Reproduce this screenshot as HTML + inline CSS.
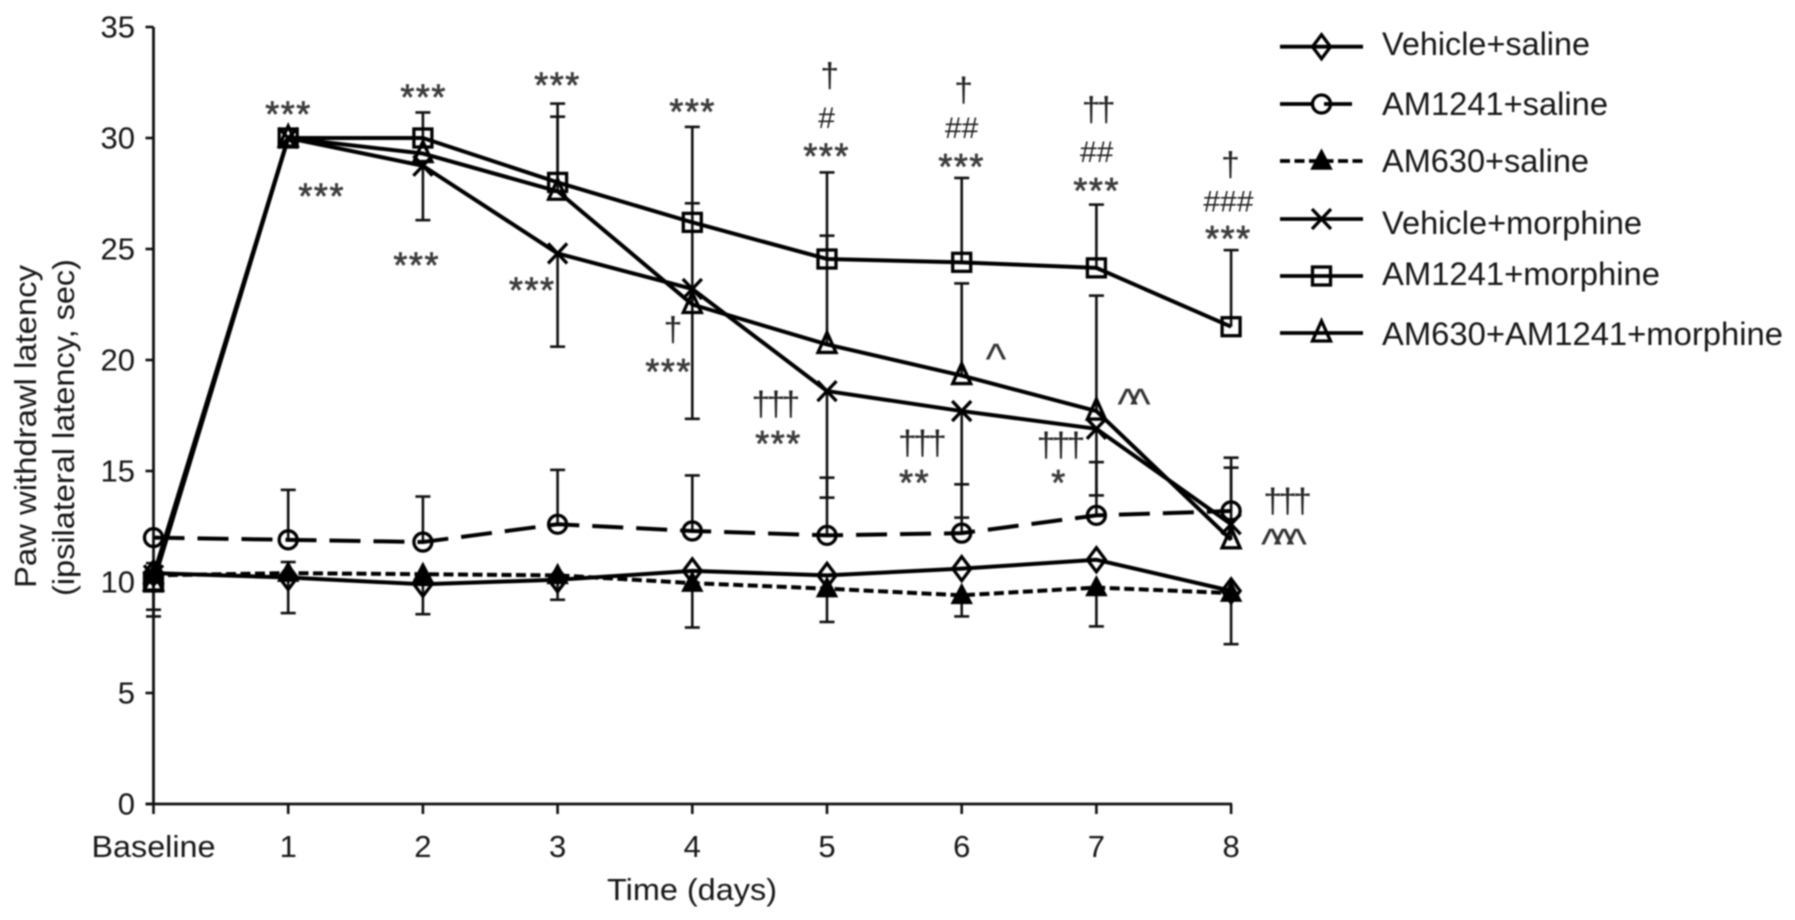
<!DOCTYPE html>
<html>
<head>
<meta charset="utf-8">
<title>Paw withdrawal latency chart</title>
<style>
html,body{margin:0;padding:0;background:#fff;width:1795px;height:920px;overflow:hidden}
svg{display:block;filter:blur(0.8px)}
text{font-family:"Liberation Sans",sans-serif;fill:#171717}
.lbl{font-size:31px}
.leg{font-size:32px}
.star{font-size:36px;fill:#3c3c3c;stroke:#3c3c3c;stroke-width:.7px;text-anchor:middle;letter-spacing:1.5px}
.dag{font-size:34px;fill:#222;text-anchor:middle;letter-spacing:-4px}
.hash{font-size:30px;fill:#222;text-anchor:middle}
.car{font-size:44px;fill:#333;text-anchor:middle;letter-spacing:-8px}
</style>
</head>
<body>
<svg id="chart" xmlns="http://www.w3.org/2000/svg" width="1795" height="920" viewBox="0 0 1795 920">
  <rect x="0" y="0" width="1795" height="920" fill="#fff"/>
  <g id="axes"></g>
  <g id="errors"></g>
  <g id="series"></g>
  <g id="legend"></g>

  <text class="lbl" x="607" y="900" textLength="170" lengthAdjust="spacingAndGlyphs">Time (days)</text>
  <text class="lbl" transform="translate(36,588) rotate(-90)" textLength="323" lengthAdjust="spacingAndGlyphs">Paw withdrawl latency</text>
  <text class="lbl" transform="translate(74,596) rotate(-90)" textLength="337" lengthAdjust="spacingAndGlyphs">(ipsilateral latency, sec)</text>

  <g transform="translate(0,-3.5)">
    <text class="star" x="288.5" y="130">***</text>
    <text class="star" x="321.7" y="212">***</text>
    <text class="star" x="423.6" y="113">***</text>
    <text class="star" x="416.7" y="281">***</text>
    <text class="star" x="557.5" y="101">***</text>
    <text class="star" x="532.3" y="306">***</text>
    <text class="star" x="692.6" y="127.6">***</text>
    <text class="star" x="668.6" y="387.5">***</text>
    <text class="star" x="826.6" y="172">***</text>
    <text class="star" x="778.5" y="459.6">***</text>
    <text class="star" x="961.6" y="182.6">***</text>
    <text class="star" x="914.7" y="498.5">**</text>
    <text class="star" x="1096.7" y="206.6">***</text>
    <text class="star" x="1059" y="498.5">*</text>
    <text class="star" x="1228.4" y="254.7">***</text>
  </g>
  <g transform="translate(0,2)">
    <text class="dag" x="670.9" y="339">†</text>
    <text class="dag" x="827.7" y="85">†</text>
    <text class="dag" x="961.6" y="99.7">†</text>
    <text class="dag" x="1096.7" y="119.2">††</text>
    <text class="dag" x="1228.4" y="174">†</text>
    <text class="dag" x="773.9" y="413.4">†††</text>
    <text class="dag" x="920.4" y="452.3">†††</text>
    <text class="dag" x="1059" y="454.6">†††</text>
    <text class="dag" x="1285.6" y="510.7">†††</text>
  </g>
  <g>
    <text class="hash" x="826.6" y="128">#</text>
    <text class="hash" x="961.6" y="138">##</text>
    <text class="hash" x="1096.7" y="162">##</text>
    <text class="hash" x="1228.4" y="211.5">###</text>
  </g>
  <g>
    <text class="car" x="992" y="374">^</text>
    <text class="car" x="1130" y="419">^^</text>
    <text class="car" x="1280" y="559">^^^</text>
  </g>
</svg>
<script>
const categories = ['Baseline', '1', '2', '3', '4', '5', '6', '7', '8'];
const yTicks = [0, 5, 10, 15, 20, 25, 30, 35];

const vehicleSaline = [10.4, 10.2, 9.9, 10.1, 10.5, 10.3, 10.6, 11.0, 9.6];
const am1241Saline = [12.0, 11.9, 11.8, 12.6, 12.3, 12.1, 12.2, 13.0, 13.2];
const am630Saline = [10.3, 10.4, 10.35, 10.3, 9.95, 9.7, 9.4, 9.75, 9.5];
const vehicleMorphine = [10.3, 30, 28.75, 24.8, 23.2, 18.6, 17.7, 16.9, 12.6];
const am1241Morphine = [10.0, 30, 30, 28, 26.2, 24.55, 24.4, 24.15, 21.5];
const am630Am1241Morphine = [10.0, 30, 29.3, 27.6, 22.5, 20.7, 19.3, 17.7, 11.9];

const vehicleSalineLow = [8.45, null, null, null, null, null, null, null, null];
const am1241SalineHigh = [null, 14.15, 13.85, 15.05, 14.8, 14.7, 14.4, 15.4, 15.6];
const am630SalineHigh = [null, 10.9, null, null, null, null, null, null, null];
const am630SalineLow = [8.75, 8.6, 8.55, 9.2, 7.95, 8.2, 8.45, 8.0, 7.2];
const vehicleMorphineLow = [null, null, 26.3, 20.6, 17.35, 13.8, 12.9, 13.9, null];
const am1241MorphineHigh = [null, null, 31.15, 31.55, 30.5, 28.45, 28.2, 27.0, 24.95];
const triangleHigh = [10.85, null, null, 30.96, 27.06, 25.6, 23.45, 22.9, 15.15];

const NS = 'http://www.w3.org/2000/svg';
const X0 = 153.5, XSTEP = 134.7, Y0 = 804, YUNIT = 22.2;
function xScale(i) { return X0 + i * XSTEP; }
function yScale(v) { return Y0 - v * YUNIT; }

function make(tag, attrs, parent) {
  const el = document.createElementNS(NS, tag);
  for (const k in attrs) el.setAttribute(k, attrs[k]);
  parent.appendChild(el);
  return el;
}

const axes = document.getElementById('axes');
const errorsG = document.getElementById('errors');
const seriesG = document.getElementById('series');
const legendG = document.getElementById('legend');
const INK = '#111';

/* axes */
const yAxisLine = make('line', {x1: X0, x2: X0, y1: yScale(35), y2: yScale(0), stroke: INK, 'stroke-width': 2.8}, axes);


const xAxisLine = make('line', {x1: X0 - 8, x2: xScale(8) + 1, y1: Y0, y2: Y0, stroke: INK, 'stroke-width': 2.8}, axes);



yTicks.forEach(function (t) {
  const tick = make('line', {x1: X0 - 8, x2: X0, y1: yScale(t), y2: yScale(t), stroke: INK, 'stroke-width': 2.6}, axes);
  
  
  const label = make('text', {x: 135, y: yScale(t) + 10.5, 'text-anchor': 'end', class: 'lbl'}, axes);
  label.textContent = String(t);
  
  
});

categories.forEach(function (c, i) {
  const tick = make('line', {x1: xScale(i), x2: xScale(i), y1: Y0, y2: Y0 + 10, stroke: INK, 'stroke-width': 2.6}, axes);
  
  
  const attrs = {x: xScale(i), y: 857, 'text-anchor': 'middle', class: 'lbl'};
  if (i === 0) { attrs.textLength = 124; attrs.lengthAdjust = 'spacingAndGlyphs'; }
  const label = make('text', attrs, axes);
  label.textContent = c;
  
  
});

/* error bars */
function drawErrors(name, values, ends) {
  ends.forEach(function (end, i) {
    if (end === null) return;
    const x = xScale(i);
    const stem = make('line', {x1: x, x2: x, y1: yScale(values[i]), y2: yScale(end), stroke: INK, 'stroke-width': 2.6}, errorsG);
    
    
    const cap = make('line', {x1: x - 7.5, x2: x + 7.5, y1: yScale(end), y2: yScale(end), stroke: INK, 'stroke-width': 2.6}, errorsG);
    
    
  });
}
drawErrors('vehicle-saline', vehicleSaline, vehicleSalineLow);
drawErrors('am1241-saline', am1241Saline, am1241SalineHigh);
drawErrors('am630-saline', am630Saline, am630SalineHigh);
drawErrors('am630-saline', am630Saline, am630SalineLow);
drawErrors('vehicle-morphine', vehicleMorphine, vehicleMorphineLow);
drawErrors('am1241-morphine', am1241Morphine, am1241MorphineHigh);
drawErrors('am630-am1241-morphine', am630Am1241Morphine, triangleHigh);

/* markers */
function drawMarker(kind, x, y, parent) {
  const common = {fill: 'none', stroke: '#000', 'stroke-width': 3.3};
  if (kind === 'diamond') {
    return make('polygon', Object.assign({points: [x, y - 12, x + 9, y, x, y + 12, x - 9, y].join(' ')}, common), parent);
  }
  if (kind === 'circle') {
    return make('circle', Object.assign({cx: x, cy: y, r: 9}, common), parent);
  }
  if (kind === 'filled') {
    return make('polygon', {points: [x, y - 11, x + 10, y + 8, x - 10, y + 8].join(' '), fill: '#000', stroke: '#000', 'stroke-width': 1.5}, parent);
  }
  if (kind === 'cross') {
    return make('path', Object.assign({d: 'M' + (x - 9.5) + ' ' + (y - 10) + 'L' + (x + 9.5) + ' ' + (y + 10) + 'M' + (x + 9.5) + ' ' + (y - 10) + 'L' + (x - 9.5) + ' ' + (y + 10)}, common), parent);
  }
  if (kind === 'square') {
    return make('rect', Object.assign({x: x - 9, y: y - 9, width: 18, height: 18}, common), parent);
  }
  return make('polygon', Object.assign({points: [x, y - 12, x + 9, y + 8, x - 9, y + 8].join(' ')}, common), parent);
}

/* series */
function drawSeries(name, values, kind, dash) {
  const pts = values.map(function (v, i) { return xScale(i) + ',' + yScale(v); }).join(' ');
  const attrs = {points: pts, fill: 'none', stroke: '#000', 'stroke-width': 4, 'stroke-linejoin': 'round'};
  if (dash) attrs['stroke-dasharray'] = dash;
  const line = make('polyline', attrs, seriesG);
  
  
  values.forEach(function (v, i) {
    const m = drawMarker(kind, xScale(i), yScale(v), seriesG);
    
    
  });
}
drawSeries('vehicle-saline', vehicleSaline, 'diamond', null);
drawSeries('am1241-saline', am1241Saline, 'circle', '31 13');
drawSeries('am630-saline', am630Saline, 'filled', '10 4.5');
drawSeries('vehicle-morphine', vehicleMorphine, 'cross', null);
drawSeries('am1241-morphine', am1241Morphine, 'square', null);
drawSeries('am630-am1241-morphine', am630Am1241Morphine, 'triangle', null);

/* legend */
const legendNames = ['Vehicle+saline', 'AM1241+saline', 'AM630+saline', 'Vehicle+morphine', 'AM1241+morphine', 'AM630+AM1241+morphine'];
const legendKinds = ['diamond', 'circle', 'filled', 'cross', 'square', 'triangle'];
const legendDash = [null, '31 13', '10 4.5', null, null, null];
const legendLineY = [46.7, 104, 161, 219, 276, 333];
const legendTextY = [55, 115, 172, 234, 285, 345];
const legendWidths = [208, 226, 207, 260, 278, 401];
legendNames.forEach(function (n, i) {
  const slug = n.toLowerCase().replace(/\+/g, '-');
  const attrs = {x1: 1280, x2: i === 1 ? 1352 : 1363, y1: legendLineY[i], y2: legendLineY[i], stroke: '#000', 'stroke-width': 3.8};
  if (legendDash[i]) attrs['stroke-dasharray'] = legendDash[i];
  const line = make('line', attrs, legendG);
  
  
  const m = drawMarker(legendKinds[i], 1321.5, legendLineY[i], legendG);
  
  
  const t = make('text', {x: 1382, y: legendTextY[i], class: 'leg', textLength: legendWidths[i], lengthAdjust: 'spacingAndGlyphs'}, legendG);
  t.textContent = n;
  
  
});
</script>
</body>
</html>
